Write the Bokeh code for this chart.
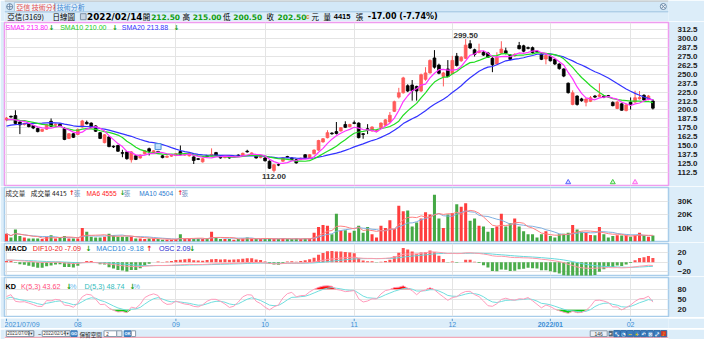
import numpy as np
import pandas as pd
from bokeh.plotting import figure
from bokeh.layouts import column
from bokeh.models import Range1d, FixedTicker, Grid, ColumnDataSource, PrintfTickFormatter
from bokeh.core.properties import value
from bokeh.embed import file_html
from bokeh.resources import INLINE

# ---------------- data ----------------
stock_name = "亞信(3169)"
holidays = ["2021-09-20", "2021-09-21", "2021-10-11", "2021-12-31",
            "2022-01-27", "2022-01-28", "2022-01-31", "2022-02-01",
            "2022-02-02", "2022-02-03", "2022-02-04"]
dates = [d for d in pd.bdate_range("2021-07-09", "2022-02-14")
         if d.strftime("%Y-%m-%d") not in holidays]

open_ = [186, 191, 192, 183, 179.5, 180.5, 178, 174, 170, 173,
         184, 178.5, 180, 174, 160, 166.5, 165.5, 176, 182.5, 181.5,
         177.5, 168, 154, 162, 149, 150, 140, 141, 130, 135.5,
         132.5, 138.5, 145.5, 139, 141.5, 135.5, 133.5, 135, 136, 141.5,
         136.5, 135.5, 134, 131.5, 127, 135.5, 135.5, 140, 133.5, 133,
         133.5, 133.5, 136.5, 136, 142, 138.5, 135, 133, 132.5, 128,
         115, 123, 128, 134.5, 132.5, 130, 130.5, 137, 133, 138.5,
         143.5, 155, 161, 167.5, 169.5, 170.5, 179.5, 176.5, 182, 181.5,
         166.5, 173.5, 170.5, 169.5, 175, 178.5, 183, 198, 218, 224,
         234, 235, 233, 226.5, 243, 252, 273, 263, 247, 257.5,
         251, 275.5, 269, 272.5, 293, 284.5, 280.5, 281, 280, 272.5,
         264.5, 280, 283, 277, 276, 290.5, 290, 287.5, 287.5, 282.5,
         278.5, 271.5, 275.5, 271, 264.5, 257.5, 237.5, 207.7, 219.5, 215.5,
         210.8, 212, 219.5, 219, 219.5, 220, 210.5, 202, 208.5, 199,
         210.8, 211, 215.5, 220.5, 214.5, 212.5]
high = [190, 192, 199.5, 184, 182, 181.5, 179, 175, 173.5, 180,
        188, 181, 181, 176, 167.5, 167.5, 174, 186, 185, 182.5,
        178.5, 169, 166, 163, 150, 151, 144, 142, 142, 136.5,
        137.5, 143.5, 147, 143.5, 142.5, 136.5, 136, 137.5, 139.5, 150,
        138.5, 140, 135, 132.5, 132.5, 136.5, 146, 141, 134.5, 135.5,
        134.5, 136, 137.5, 140, 144, 140.5, 136, 135.5, 133.5, 129,
        124, 125, 133.5, 135.5, 133.5, 131, 133, 138, 138, 144.5,
        158, 160.5, 171.5, 168.5, 183, 176, 184, 180.5, 185, 182.5,
        167.5, 180, 177, 172, 182.5, 187, 197, 213, 231, 246.5,
        236, 242, 234, 251, 260, 271, 284, 265, 253.5, 270,
        276, 280, 275.5, 299.5, 298, 286, 293, 283, 281.5, 274,
        281, 296.5, 287.5, 278.5, 279.5, 295.5, 291.5, 289, 289, 284,
        280, 278, 276.5, 272, 265.5, 258.5, 238.5, 227.5, 220.5, 217,
        216.5, 219.5, 221, 237.5, 220.5, 221, 212, 213, 209.5, 208.5,
        217.5, 227, 226.5, 222, 221, 215]
low = [184, 189, 180, 166, 178, 175.5, 173, 168.5, 169, 172,
       176, 177.5, 176.5, 157.5, 159, 160.5, 164.5, 175, 179.5, 174.5,
       169, 159, 153, 147.5, 146.5, 141, 133.5, 130, 126, 129.5,
       131.5, 137.5, 136, 138, 138.5, 132, 132.5, 134, 135, 137,
       135.5, 134.5, 124, 129.5, 126, 133.5, 134.5, 135, 131.5, 132,
       131.5, 132.5, 134.5, 135, 140, 137.5, 131.5, 132, 127.5, 117,
       112, 121, 127, 132.5, 129.5, 124.5, 129.5, 132, 132, 137.5,
       142.5, 154, 160, 165, 165.5, 169.5, 174.5, 175.5, 180, 160,
       159.5, 166, 169.5, 168.5, 174, 177.5, 182, 197, 216, 223,
       225, 213, 213, 225, 241, 251, 258, 250, 233, 246,
       250, 261, 267.5, 271.5, 285.5, 275, 279.5, 276, 273, 253,
       263.5, 279, 278, 270, 275, 285, 281, 285, 279, 280,
       270, 264, 268, 263, 256.5, 246, 223, 206.5, 206, 211.5,
       205, 211, 216.5, 218, 216.5, 217.5, 205, 201, 199, 198,
       200.5, 210, 214.5, 213, 213.5, 200.5]
close = [188.5, 190, 181, 179, 181, 176.5, 174.5, 169.5, 172.5, 179,
         177, 180, 177.5, 158.5, 166.5, 161.5, 172.5, 184.5, 180.5, 175.5,
         170, 160, 165, 148.5, 148, 142, 139, 131.5, 141, 130.5,
         136.5, 142.5, 142, 142.5, 139.5, 133, 135, 136.5, 138.5, 137.5,
         137.5, 139, 129, 130.5, 131.5, 134.5, 137.5, 136, 132.5, 134.5,
         132.5, 135, 135.5, 139, 141, 139.5, 132.5, 134.5, 128.5, 118,
         123, 122.5, 132.5, 133.5, 130.5, 125.5, 132, 133, 137, 143.5,
         157, 159.5, 168, 166.5, 167, 175, 175.5, 179.5, 181, 161,
         165.5, 172.5, 176, 171, 181.5, 186, 192.5, 211.5, 224, 245,
         226.5, 227, 226.5, 249.5, 252, 269.5, 260, 251.5, 252, 247,
         269.5, 262.5, 274, 291, 287, 278, 282.5, 277, 274, 263.5,
         274, 285.5, 279.5, 271, 278, 286, 282.5, 286.5, 280.5, 281.5,
         271, 276.5, 269, 264.5, 258, 247.5, 224.2, 224, 207.7, 213,
         215.3, 217, 218, 221, 218, 219.4, 206, 211, 199.5, 207,
         207.5, 217, 217.5, 214, 219.5, 202.5]
volume = [5800, 2900, 8800, 4100, 2900, 2200, 2200, 2200, 1800, 3600,
          4600, 2200, 3400, 4100, 2200, 2200, 2200, 10000, 7200, 3600,
          2900, 2900, 3600, 5800, 4600, 3600, 3600, 3600, 3600, 2200,
          2200, 1800, 2200, 2200, 1800, 1300, 1300, 1300, 1800, 5300,
          1800, 1800, 1800, 2200, 1800, 2200, 7200, 2900, 1800, 1800,
          1800, 1300, 1800, 2200, 2900, 2200, 1800, 1800, 2200, 2200,
          1800, 1800, 2200, 1800, 1800, 2200, 1800, 2200, 2200, 6500,
          10700, 12300, 11600, 5300, 20500, 8000, 8300, 6500, 8000, 11600,
          6500, 10700, 5300, 2900, 11600, 10000, 15800, 9300, 26400, 22400,
          22900, 11200, 14000, 17000, 21700, 20000, 34600, 17000, 10000, 20000,
          21200, 27600, 25700, 28300, 15400, 17000, 11600, 11200, 7200, 10000,
          11200, 20500, 11200, 13500, 17000, 11200, 7600, 5300, 5300, 2900,
          5300, 7600, 4100, 2900, 5300, 5800, 6500, 12300, 8800, 7200,
          6500, 4800, 4600, 10700, 5300, 2900, 4100, 4600, 4400, 4600,
          3600, 4600, 6500, 4600, 3600, 4415]
# closes of the 19 sessions before the window (for the moving-average warm-up)
prior_close = [165, 166, 168, 167, 170, 169, 171, 168, 170, 172,
               182, 186, 188, 185, 189, 187, 184, 186, 184.5]
# read-outs printed in the legends
sma_readout = ["213.80", "210.00", "213.88"]
vol_ma_readout = ["4555", "4504"]
macd_readout = ["-7.09", "-9.18", "2.09"]
kd_readout = ["43.62", "48.74"]
signal_idx = [126, 136, 141]
signal_col = ["#5a66ff", "#44cc44", "#ff66ee"]
event_idx = [34]
price_ticks = [112.5, 125.0, 137.5, 150.0, 162.5, 175.0, 187.5, 200.0, 212.5,
               225.0, 237.5, 250.0, 262.5, 275.0, 287.5, 300.0, 312.5]
vol_ticks = [10000, 20000, 30000]
vol_labels = ["10K", "20K", "30K"]
macd_ticks = [-20, 0, 20]
kd_ticks = [20, 50, 80]

N = len(close)
assert len(dates) == N and len(open_) == N and len(high) == N and len(low) == N and len(volume) == N
idx = np.arange(N)
o = np.array(open_, float); h = np.array(high, float); l = np.array(low, float); c = np.array(close, float)
v = np.array(volume, float)

# ---------------- indicators ----------------
full = pd.Series(list(prior_close) + list(close), dtype=float)
def sma(n):
    return full.rolling(n, min_periods=1).mean().to_numpy()[-N:]
sma5, sma10, sma20 = sma(5), sma(10), sma(20)
ema10 = full.ewm(span=10, adjust=False).mean()
ema20 = full.ewm(span=20, adjust=False).mean()
dif_full = ema10 - ema20
sig_full = dif_full.ewm(span=10, adjust=False).mean()
dif = dif_full.to_numpy()[-N:]
sig = sig_full.to_numpy()[-N:]
osc = dif - sig
vs = pd.Series(v)
vma6 = vs.rolling(6, min_periods=1).mean().to_numpy()
vma10 = vs.rolling(10, min_periods=1).mean().to_numpy()
K = []; D = []
kk = dd = 50.0
for i in range(N):
    lo5 = l[max(0, i - 4):i + 1].min(); hi5 = h[max(0, i - 4):i + 1].max()
    rsv = (c[i] - lo5) / (hi5 - lo5) * 100 if hi5 > lo5 else 50
    kk = kk * 2 / 3 + rsv / 3
    dd = dd * 2 / 3 + kk / 3
    K.append(kk); D.append(dd)
K = np.array(K); D = np.array(D)

# month ticks
month_ticks = [0] + [i for i in range(1, N) if dates[i].month != dates[i - 1].month]
def month_label(i):
    d = dates[i]
    if i == 0:
        return d.strftime("%Y/%m/%d")
    if d.month == 1:
        return d.strftime("%Y/%m")
    return d.strftime("%m")

# ---------------- layout constants ----------------
W = 704
SX = 704 / 720.0
SY = 339 / 355.0
BG = "#dcedf9"
GRID = "#e4e4e4"
GREEN_T = "#119e11"
UPC = "#ff5a5a"
FL, FW = 4, 664
XS, XE = -0.45, 148.5
xr = Range1d(XS, XE)
CJK = "Noto Sans CJK TC"
LAT = "Liberation Sans"

def X(px):
    return XS + (px - FL) / FW * (XE - XS)

def txt(p, x, y, s, color="#000000", size="7.5px", font=LAT, bold=False,
        align="left", baseline="middle", x_offset=0, y_offset=0):
    p.text(x=[x], y=[y], text=[s], text_color=color, text_font=value(font),
           text_font_size=size, text_font_style="bold" if bold else "normal",
           text_align=align, text_baseline=baseline, x_offset=x_offset, y_offset=y_offset)

def base(h, yr, xrng, top=0, bottom=0, left=0, right=0, bg=BG, outline=None, yloc=None):
    p = figure(width=W, height=h, x_range=xrng, y_range=yr, tools="",
               toolbar_location=None, output_backend="svg",
               x_axis_location=None, y_axis_location=yloc,
               min_border_left=left, min_border_right=right,
               min_border_top=top, min_border_bottom=bottom,
               background_fill_color=bg, border_fill_color=BG,
               outline_line_color=outline)
    p.grid.visible = False
    return p

def panel(h, y0, y1, outline, ticks, overrides=None, fmt=None):
    p = base(h, Range1d(y0, y1), xr, top=1, bottom=1, left=FL, right=W - FL - FW,
             bg="white", outline=outline, yloc="right")
    p.outline_line_width = 1.5
    ax = p.yaxis[0]
    ax.ticker = FixedTicker(ticks=ticks)
    ax.axis_line_color = None
    ax.major_tick_line_color = None
    ax.minor_tick_line_color = None
    ax.major_label_text_font = LAT
    ax.major_label_text_font_style = "bold"
    ax.major_label_text_font_size = "8px"
    ax.major_label_text_color = "#222222"
    ax.major_label_standoff = 3
    if fmt:
        ax.formatter = PrintfTickFormatter(format=fmt)
    if overrides:
        ax.major_label_overrides = overrides
    p.add_layout(Grid(dimension=1, ticker=FixedTicker(ticks=ticks), grid_line_color=GRID))
    p.add_layout(Grid(dimension=0, ticker=FixedTicker(ticks=month_ticks), grid_line_color=GRID))
    return p

# ---------------- header ----------------
head = base(21, Range1d(21, 0), Range1d(0, W))
head.quad(left=0, right=W, top=0, bottom=11.2, fill_color="#d3e8f7", line_color=None)
head.segment(x0=[0], y0=[0.4], x1=[W], y1=[0.4], line_color="#b8aca0", line_width=1)
head.segment(x0=[0], y0=[11.3], x1=[W], y1=[11.3], line_color="#9fc3e0", line_width=1)
head.scatter(x=[5.5], y=[6.2], marker="circle_cross", size=6, line_color="#6d8aa8", fill_color="#eef5fb")
head.quad(left=[10.5], right=[53], top=[1.8], bottom=[11.3], fill_color="#f3f8fc", line_color="#a9c6e0")
txt(head, 12.5, 6.6, "亞信 技術分析", color="#e24a4a", size="7px", font=CJK)
head.quad(left=[54], right=[80.5], top=[2.5], bottom=[11.3], fill_color="#e4f0fa", line_color="#a9c6e0")
txt(head, 55.5, 6.8, "技術分析", color="#3d8ad6", size="7px", font=CJK)
head.scatter(x=[698.5], y=[6], marker="circle_x", size=6, line_color="#6d8aa8", fill_color="#eef5fb")
HY = 16.3
txt(head, 3 * SX, HY, stock_name, size="7.5px", font=CJK)
txt(head, 52 * SX, HY, "日線圖", size="7.5px", font=CJK)
head.quad(left=[80.5], right=[86.5], top=[13.2], bottom=[19.2], fill_color="#c9d6e3", line_color="#7f93a8")
txt(head, 89.5 * SX, HY, dates[-1].strftime("%Y/%m/%d"), size="8.8px", font="DejaVu Sans", bold=True)
chg = c[-1] - c[-2]
pct = chg / c[-2] * 100
for lx, lab, nx, val in [(150, "開", 159, o[-1]), (193, "高", 204, h[-1]),
                         (237, "低", 248, l[-1]), (284, "收", 296, c[-1])]:
    txt(head, lx * SX, HY, lab, size="7.5px", font=CJK)
    txt(head, nx * SX, HY, f"{val:.2f}", color=GREEN_T, size="7.5px", font="DejaVu Sans", bold=True)
txt(head, 327 * SX, HY, "c", color="#e0902a", size="6.5px", font=LAT, bold=True)
txt(head, 333 * SX, HY, "元", size="7.5px", font=CJK)
txt(head, 346 * SX, HY, "量", size="7.5px", font=CJK)
txt(head, 357 * SX, HY, f"{int(v[-1])}", size="7.5px", font=LAT, bold=True)
txt(head, 381 * SX, HY, "張", size="7.5px", font=CJK)
txt(head, 394 * SX, HY, f"{chg:.2f} ({pct:.2f}%)", size="8px", font="DejaVu Sans", bold=True)

# ---------------- price panel ----------------
P0, P1 = 93.8, 322.8
pp = panel(165, P0, P1, "#ef9cef", price_ticks, fmt="%.1f")
def PY(py):
    return P1 - (py - 22) / 163.0 * (P1 - P0)
up = c >= o
cols = np.where(up, UPC, "#000000")
src = ColumnDataSource(dict(x=idx, h=h, l=l, top=np.maximum(o, c), bot=np.minimum(o, c), col=cols))
pp.segment(x0="x", y0="l", x1="x", y1="h", line_color="col", line_width=1, source=src)
pp.vbar(x="x", width=0.62, top="top", bottom="bot", fill_color="col", line_color="col",
        line_width=0.8, source=src)
pp.line(idx, sma20, line_color="#3333ff", line_width=1.2)
pp.line(idx, sma10, line_color="#22dd22", line_width=1.2)
pp.line(idx, sma5, line_color="#ff33ff", line_width=1.2)
hi_i = int(np.argmax(h)); lo_i = int(np.argmin(l))
txt(pp, hi_i, h[hi_i], f"{h[hi_i]:.2f}", color="#333333", size="8px", bold=True,
    align="center", baseline="bottom", y_offset=-1)
txt(pp, lo_i, l[lo_i], f"{l[lo_i]:.2f}", color="#333333", size="8px", bold=True,
    align="center", baseline="top", y_offset=1)
pp.scatter(x=signal_idx, y=[P0 + 4.5] * len(signal_idx), marker="triangle", size=5,
           line_color=signal_col, fill_color=signal_col, fill_alpha=0.25)
pp.scatter(x=event_idx, y=[h[i] + 6 for i in event_idx], marker="square", size=6,
           line_color="#4a90d8", fill_color="#bfe0fb")
LY = PY(27.0)
for rx, s, colr, fnt in [(5, "SMA5 " + sma_readout[0], "#ff22ff", LAT), (49, "↓", GREEN_T, "DejaVu Sans"),
                         (61, "SMA10 " + sma_readout[1], "#22cc22", LAT), (114, "↓", GREEN_T, "DejaVu Sans"),
                         (124, "SMA20 " + sma_readout[2], "#3333ff", LAT), (177, "↓", GREEN_T, "DejaVu Sans")]:
    txt(pp, X(max(rx * SX, 5)), LY, s, color=colr, size="7px", font=fnt, bold=(s == "↓"))

# ---------------- volume panel ----------------
V0, V1 = 0, 40000
vp = panel(56, V0, V1, "#a9cdea", vol_ticks, overrides=dict(zip(vol_ticks, vol_labels)))
vcol = np.where(up, "#ff3d3d", "#45a845")
vp.vbar(x=idx, width=0.68, top=v, bottom=0, fill_color=vcol, line_color=None)
vp.line(idx, vma10, line_color="#7fb0e0", line_width=1)
vp.line(idx, vma6, line_color="#ff8080", line_width=1)
VY = V1 - (192.5 - 187) / 54.0 * (V1 - V0)
for rx, s, colr, fnt in [(4, "成交量", "#333333", CJK), (31, f"成交量 {int(v[-1])}", "#222222", CJK),
                         (70, "↑", "#ee2222", "DejaVu Sans"), (75, "張", "#6a8fc0", CJK),
                         (88, "MA6 " + vol_ma_readout[0], "#ff2020", LAT), (122, "↓", GREEN_T, "DejaVu Sans"),
                         (126, "張", "#6a8fc0", CJK),
                         (142, "MA10 " + vol_ma_readout[1], "#2a7ad0", LAT), (181, "↑", "#ee2222", "DejaVu Sans"),
                         (185, "張", "#6a8fc0", CJK)]:
    txt(vp, X(max(rx * SX, 5)), VY, s, color=colr, size="6.6px", font=fnt, bold=(s in ("↑", "↓")))

# ---------------- MACD panel ----------------
M0, M1 = -29.0, 40.6
OSC_SCALE = 5.0
mp = panel(34, M0, M1, "#a9cdea", macd_ticks)
mp.extra_y_ranges = {"osc": Range1d(M0 / OSC_SCALE, M1 / OSC_SCALE)}
ocol = np.where(osc >= 0, "#ff5050", "#4cad4c")
mp.vbar(x=idx, width=0.68, top=osc, bottom=0, fill_color=ocol, line_color=None, y_range_name="osc")
mp.line(idx, sig, line_color="#66d8dc", line_width=1)
mp.line(idx, dif, line_color="#ff9aaa", line_width=1)
MY = M1 - (248.2 - 243) / 32.0 * (M1 - M0)
for rx, s, colr, fnt, b in [(4, "MACD", "#000000", LAT, True),
                            (33, "DIF10-20 " + macd_readout[0], "#ee2222", LAT, False), (87, "↓", GREEN_T, "DejaVu Sans", True),
                            (98, "MACD10 " + macd_readout[1], "#2a88d8", LAT, False), (149, "↑", "#ee2222", "DejaVu Sans", True),
                            (162, "OSC " + macd_readout[2], "#2626d0", LAT, False), (193, "↓", GREEN_T, "DejaVu Sans", True)]:
    txt(mp, X(max(rx * SX, 5)), MY, s, color=colr, size="7.2px", font=fnt, bold=b)

# ---------------- KD panel ----------------
K0, K1 = 0, 114
kp = panel(41, K0, K1, "#a9cdea", kd_ticks)
kp.varea(x=idx, y1=80, y2=np.maximum(K, 80), fill_color="#ff1010")
kp.varea(x=idx, y1=np.minimum(K, 20), y2=20, fill_color="#11cc11")
kp.line(idx, D, line_color="#70dede", line_width=1)
kp.line(idx, K, line_color="#ff9cbc", line_width=1)
KY = K1 - (285.8 - 277) / 39.0 * (K1 - K0)
for rx, s, colr, fnt, b in [(4, "KD", "#000000", LAT, True),
                            (21, "K(5,3) " + kd_readout[0], "#ff4d7a", LAT, False), (67, "↓", GREEN_T, "DejaVu Sans", True),
                            (71, "%", "#66b8ee", LAT, False),
                            (86, "D(5,3) " + kd_readout[1], "#2fbcbc", LAT, False), (132, "↓", GREEN_T, "DejaVu Sans", True),
                            (136, "%", "#66b8ee", LAT, False)]:
    txt(kp, X(max(rx * SX, 5)), KY, s, color=colr, size="7.2px", font=fnt, bold=b)

# ---------------- date strip ----------------
dp = base(11, Range1d(11, 0), xr, left=FL, right=W - FL - FW)
dp.segment(x0=month_ticks, y0=[0] * len(month_ticks), x1=month_ticks, y1=[2.6] * len(month_ticks),
           line_color="#5a9ad0", line_width=1)
for i in month_ticks:
    lab = month_label(i)
    if i == 0:
        txt(dp, i, 6.2, lab, color="#3d8fd6", size="7px", align="left", x_offset=-2)
    else:
        txt(dp, i, 6.2, lab, color="#3d8fd6", size="7px", align="center", bold=(dates[i].month == 1))

# ---------------- footer controls ----------------
ft = base(11, Range1d(11, 0), Range1d(0, W))
ft.quad(left=0, right=W, top=7.8, bottom=11, fill_color="white", line_color=None)
ft.segment(x0=[0], y0=[7.8], x1=[W], y1=[7.8], line_color="#f2a9b8", line_width=1.2)
FY = 4.2
BT, BB = 1.3, 7.0
for lft, rgt, lab in [(2, 31, dates[0].strftime("%Y/%m/%d")), (40, 69.5, dates[-1].strftime("%Y/%m/%d"))]:
    ft.quad(left=[lft], right=[rgt], top=[BT], bottom=[BB], fill_color="white", line_color="#8a9aaa")
    ft.quad(left=[rgt - 5], right=[rgt], top=[BT], bottom=[BB], fill_color="#e8eef4", line_color="#8a9aaa")
    txt(ft, lft + 1, FY, lab, color="#333333", size="4.5px")
    txt(ft, rgt - 2.5, FY, "▾", color="#333333", size="4.5px", font="DejaVu Sans", align="center")
txt(ft, 35.5, FY, "~", color="#333333", size="5.5px")
ft.quad(left=[70.5], right=[77], top=[BT], bottom=[BB], fill_color="#4a8fd2", line_color="#3b77b3")
txt(ft, 73.75, FY, "GO", color="white", size="4px", align="center", bold=True)
txt(ft, 79.5, 5.2, "保留空間", color="#222222", size="5.6px", font=CJK)
ft.quad(left=[105.5], right=[119], top=[BT], bottom=[BB], fill_color="white", line_color="#8a9aaa")
txt(ft, 108, FY, "2", color="#333333", size="4.5px")
ft.quad(left=[119], right=[124.5], top=[BT], bottom=[BB], fill_color="#e8eef4", line_color="#8a9aaa")
ft.quad(left=[127], right=[134], top=[BT], bottom=[BB], fill_color="#4a8fd2", line_color="#3b77b3")
txt(ft, 130.5, FY, "OK", color="white", size="4px", align="center", bold=True)
ft.quad(left=[134.5], right=[139], top=[BT], bottom=[BB], fill_color="white", line_color="#8a9aaa")
ft.quad(left=[621], right=[639], top=[BT], bottom=[BB], fill_color="#e9eff5", line_color="#8a9aaa")
txt(ft, 630, FY, str(N), color="#333333", size="5px", align="center")
ft.quad(left=[640.5], right=[645], top=[BT], bottom=[BB], fill_color="#556677", line_color=None)
txt(ft, 642.75, FY, "▸", color="white", size="4.5px", font="DejaVu Sans", align="center")
icons = ["⤡", "◔", "−", "+", "↶", "⊠", "⤢", "♪"]
for k, g in enumerate(icons):
    lft = 646 + k * 7.1
    fc = "#d23a2a" if k == len(icons) - 1 else "#3d7fc0"
    ft.quad(left=[lft], right=[lft + 6.4], top=[1.1], bottom=[7.2], fill_color=fc, line_color="#2f6aa5")
    gc = "#ffd400" if g in ("−", "+", "♪") else "white"
    txt(ft, lft + 3.2, FY, g, color=gc, size="5px", font="DejaVu Sans", align="center", bold=True)

layout = column(head, pp, vp, mp, kp, dp, ft, spacing=0)
open("out.html", "w").write(file_html(layout, INLINE))
